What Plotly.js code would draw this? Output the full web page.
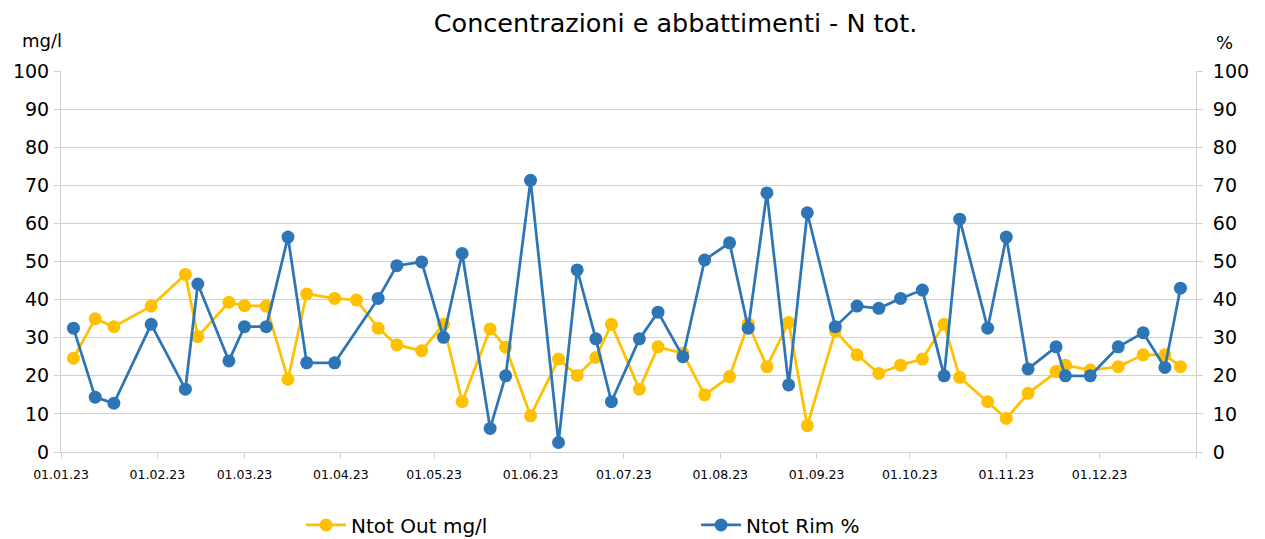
<!DOCTYPE html>
<html>
<head>
<meta charset="utf-8">
<script src="https://cdn.plot.ly/plotly-3.0.1.min.js"></script>
<style>html,body{margin:0;padding:0;background:#fff;}#chart{width:1265px;height:539px;}</style>
</head>
<body>
<div id="chart"></div>
<script>
const dates = ['2023-01-05','2023-01-12','2023-01-18','2023-01-30','2023-02-10','2023-02-14','2023-02-24','2023-03-01','2023-03-08','2023-03-15','2023-03-21','2023-03-30','2023-04-06','2023-04-13','2023-04-19','2023-04-27','2023-05-04','2023-05-10','2023-05-19','2023-05-24','2023-06-01','2023-06-10','2023-06-16','2023-06-22','2023-06-27','2023-07-06','2023-07-12','2023-07-20','2023-07-27','2023-08-04','2023-08-10','2023-08-16','2023-08-23','2023-08-29','2023-09-07','2023-09-14','2023-09-21','2023-09-28','2023-10-05','2023-10-12','2023-10-17','2023-10-26','2023-11-01','2023-11-08','2023-11-17','2023-11-20','2023-11-28','2023-12-07','2023-12-15','2023-12-22','2023-12-27'];
const ntotOut = [24.6,35.0,32.9,38.3,46.6,30.3,39.3,38.4,38.3,19.1,41.5,40.3,39.9,32.5,28.1,26.6,33.5,13.2,32.3,27.5,9.5,24.4,20.1,24.8,33.5,16.5,27.6,25.9,15.0,19.8,33.6,22.4,34.0,6.9,31.8,25.5,20.6,22.8,24.4,33.5,19.6,13.2,8.8,15.4,21.1,22.8,21.5,22.4,25.5,25.5,22.4];
const ntotRim = [32.5,14.4,12.8,33.5,16.5,44.1,23.9,32.9,32.9,56.4,23.4,23.4,null,40.3,48.9,49.9,30.1,52.1,6.2,20.0,71.3,2.5,47.8,29.7,13.2,29.7,36.7,25.0,50.4,54.9,32.5,68.0,17.6,62.8,32.9,38.3,37.7,40.3,42.5,20.0,61.1,32.5,56.4,21.8,27.6,20.0,20.0,27.6,31.3,22.2,43.0];
const seriesNames = ['Ntot Out mg/l', 'Ntot Rim %'];
const xTickVals = ['2023-01-01','2023-02-01','2023-03-01','2023-04-01','2023-05-01','2023-06-01','2023-07-01','2023-08-01','2023-09-01','2023-10-01','2023-11-01','2023-12-01','2024-01-01'];
const xTickText = ['01.01.23','01.02.23','01.03.23','01.04.23','01.05.23','01.06.23','01.07.23','01.08.23','01.09.23','01.10.23','01.11.23','01.12.23',''];
const yTicks = [0,10,20,30,40,50,60,70,80,90,100];
const titleText = 'Concentrazioni e abbattimenti - N tot.';
const leftUnit = 'mg/l';
const rightUnit = '%';

const FONT = 'DejaVu Sans, sans-serif';
const grid = '#d0d0d0';

const traces = [
  {x: dates, y: ntotOut, name: seriesNames[0], type: 'scatter', mode: 'lines+markers',
   line: {color: '#FFC000', width: 2.75}, marker: {color: '#FFC000', size: 13}, yaxis: 'y'},
  {x: dates, y: ntotRim, name: seriesNames[1], type: 'scatter', mode: 'lines+markers', connectgaps: true,
   line: {color: '#2E75B6', width: 2.75}, marker: {color: '#2E75B6', size: 13}, yaxis: 'y2'}
];

const yax = {range: [0, 100], tickvals: yTicks, showgrid: true, gridcolor: grid, gridwidth: 1,
  showline: true, linecolor: grid, linewidth: 1, ticks: 'outside', ticklen: 6, tickcolor: grid,
  tickfont: {family: FONT, size: 19, color: '#000'}, zeroline: false, fixedrange: true};

const layout = {
  width: 1265, height: 539,
  paper_bgcolor: '#fff', plot_bgcolor: '#fff',
  margin: {l: 61, r: 69, t: 71, b: 87},
  title: {text: titleText, font: {family: FONT, size: 25.5, color: '#000'}, xref: 'container', x: 0.534, xanchor: 'center', yref: 'container', y: 0.958, yanchor: 'middle'},
  xaxis: {type: 'date', range: ['2023-01-01', '2024-01-01'], tickvals: xTickVals, ticktext: xTickText,
    showgrid: false, showline: true, linecolor: grid, linewidth: 1, ticks: 'outside', ticklen: 6, tickcolor: grid,
    tickfont: {family: FONT, size: 12.5, color: '#000'}, zeroline: false, tickangle: 0, ticklabelstandoff: 5},
  yaxis: Object.assign({}, yax, {side: 'left', ticklabelstandoff: 1}),
  yaxis2: Object.assign({}, yax, {side: 'right', overlaying: 'y', showgrid: false, ticklabelstandoff: 6}),
  showlegend: true,
  legend: {orientation: 'h', xref: 'container', yref: 'container', x: 0.238, xanchor: 'left', y: 0.026, yanchor: 'middle',
    font: {family: FONT, size: 20, color: '#000'}, entrywidth: 340, entrywidthmode: 'pixels', itemwidth: 40, traceorder: 'normal'},
  annotations: [
    {text: leftUnit, xref: 'paper', yref: 'paper', x: -19/1135, y: 1 + 31/381, xanchor: 'center', yanchor: 'middle', showarrow: false, font: {family: FONT, size: 18, color: '#000'}},
    {text: rightUnit, xref: 'paper', yref: 'paper', x: 1 + 28/1135, y: 1 + 29/381, xanchor: 'center', yanchor: 'middle', showarrow: false, font: {family: FONT, size: 18, color: '#000'}}
  ]
};

Plotly.newPlot('chart', traces, layout, {displayModeBar: false, staticPlot: true});
</script>
</body>
</html>
